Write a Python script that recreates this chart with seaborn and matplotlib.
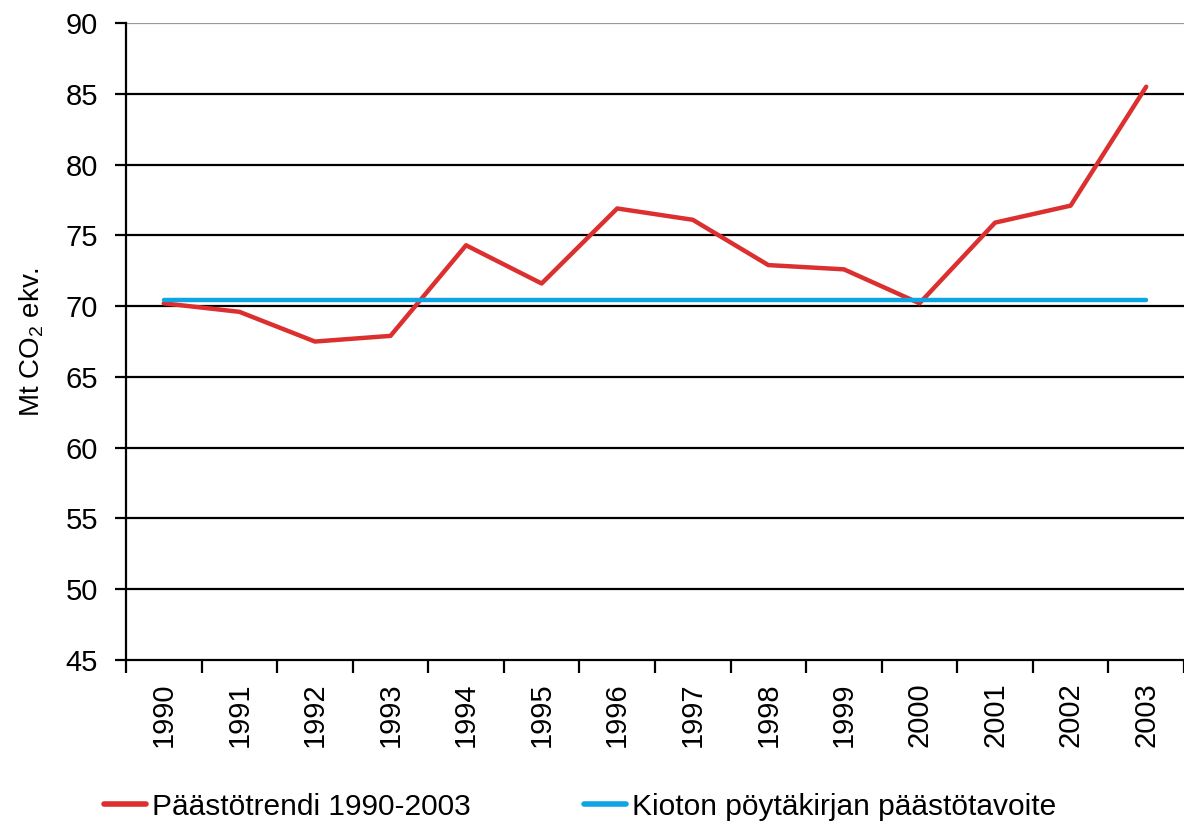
import matplotlib
matplotlib.use("Agg")
import matplotlib.pyplot as plt
import pandas as pd
import seaborn as sns
from matplotlib.ticker import FixedLocator

# Data
years = ["1990", "1991", "1992", "1993", "1994", "1995", "1996",
         "1997", "1998", "1999", "2000", "2001", "2002", "2003"]
trend = [70.2, 69.6, 67.5, 67.9, 74.3, 71.6, 76.9,
         76.1, 72.9, 72.6, 70.2, 75.9, 77.1, 85.5]
kyoto_target = 70.4

trend_label = "Päästötrendi 1990-2003"
target_label = "Kioton pöytäkirjan päästötavoite"

df = pd.DataFrame({
    "vuosi": years * 2,
    "Mt": trend + [kyoto_target] * len(years),
    "sarja": [trend_label] * len(years) + [target_label] * len(years),
})

sns.set_style("white")
plt.rcParams["font.family"] = ["Liberation Sans", "DejaVu Sans"]
plt.rcParams["mathtext.fontset"] = "custom"
plt.rcParams["mathtext.rm"] = "Liberation Sans"
plt.rcParams["text.color"] = "black"
plt.rcParams["axes.labelcolor"] = "black"
plt.rcParams["xtick.color"] = "black"
plt.rcParams["ytick.color"] = "black"

fig = plt.figure(figsize=(11.84, 8.22), dpi=100)
ax = fig.add_axes([0.1064, 0.197, 0.8936, 0.775])

sns.lineplot(data=df, x="vuosi", y="Mt", hue="sarja", ax=ax,
             palette={trend_label: "#dc2f2f", target_label: "#0ea5e4"},
             linewidth=3.2, legend=False, sort=False)

ax.set_xlim(-0.5, len(years) - 0.5)
ax.set_ylim(45, 90)
ax.set_yticks(range(45, 91, 5))

# vaakasuorat apuviivat
for v in range(50, 86, 5):
    ax.axhline(v, color="black", lw=1.6, zorder=0)
ax.axhline(90, color="#999999", lw=1.6, zorder=0)

for s in ["top", "right"]:
    ax.spines[s].set_visible(False)
for s in ["left", "bottom"]:
    ax.spines[s].set_color("black")
    ax.spines[s].set_linewidth(1.6)

ax.xaxis.set_minor_locator(FixedLocator([i - 0.5 for i in range(len(years) + 1)]))
ax.tick_params(axis="x", which="major", length=0, pad=16, labelsize=21,
               rotation=90)
ax.tick_params(axis="x", which="minor", length=9, width=1.6,
               direction="out", bottom=True)
ax.tick_params(axis="y", length=8, width=1.6, left=True,
               direction="out", labelsize=21, pad=12)

ax.set_xlabel("")
ax.set_ylabel("Mt CO$_\\mathregular{2}$ ekv.", fontsize=20, labelpad=14)

handles = [plt.Line2D([], [], color="#dc2f2f", lw=4),
           plt.Line2D([], [], color="#0ea5e4", lw=4)]
fig.legend(handles, [trend_label, target_label], loc="lower left",
           bbox_to_anchor=(0.065, -0.031), ncol=2, frameon=False,
           fontsize=21.5, handlelength=1.4, handletextpad=0.2,
           columnspacing=3.8)

fig.savefig("out.png", dpi=100)
